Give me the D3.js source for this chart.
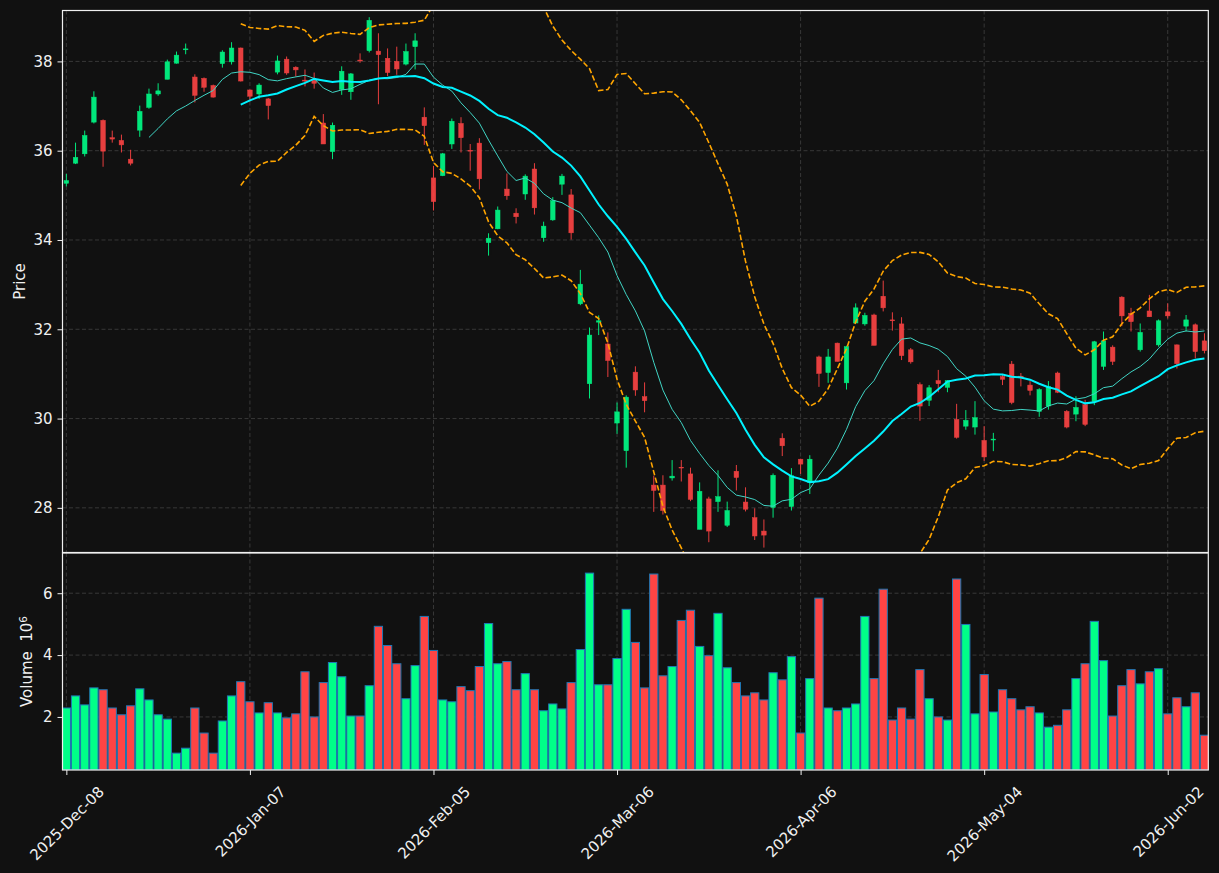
<!DOCTYPE html>
<html>
<head>
<meta charset="utf-8">
<script src="https://cdn.jsdelivr.net/npm/d3@7"></script>
<style>
  body { margin: 0; background: #111111; }
  svg { display: block; }
  text { font-family: "DejaVu Sans", sans-serif; }
</style>
</head>
<body>
<svg id="chart" width="1219" height="873"></svg>
<script>
var opens = [35.27,35.72,35.93,36.64,36.68,36.29,36.23,35.81,36.46,36.97,37.27,37.60,37.96,38.26,37.65,37.62,37.46,37.95,37.99,38.30,
  37.36,37.27,37.16,37.76,38.05,37.87,37.58,37.57,36.62,35.98,37.37,37.32,38.03,38.24,38.23,38.07,38.00,37.94,38.33,36.75,
  35.39,35.44,36.15,36.61,36.01,36.17,33.94,34.25,35.14,34.60,35.03,35.59,34.05,34.45,35.25,35.01,32.57,30.78,32.16,31.67,
  29.90,29.28,31.04,30.49,28.51,28.51,28.67,28.91,28.76,27.52,28.20,28.14,27.61,28.82,28.13,27.78,27.48,28.01,29.56,28.03,
  29.09,28.57,31.38,31.03,31.69,30.80,32.14,32.12,32.32,32.74,32.21,32.12,31.54,30.76,30.41,30.85,30.70,29.98,29.83,29.81,
  29.51,29.52,30.94,31.22,30.95,30.75,30.16,30.28,31.02,30.16,30.10,30.31,30.38,31.17,31.60,32.72,32.36,31.54,32.41,31.65,
  32.39,31.65,32.07,32.10,31.74];
var highs = [35.48,36.18,36.45,37.33,36.70,36.45,36.36,36.02,37.01,37.39,37.51,38.04,38.22,38.40,37.71,37.64,37.48,38.25,38.43,38.31,
  37.37,37.51,37.18,38.13,38.11,37.89,37.82,37.75,36.82,36.63,37.89,37.74,38.18,38.99,38.63,38.29,38.33,38.40,38.63,36.97,
  35.66,35.95,36.72,36.75,36.15,36.28,34.15,34.75,35.49,34.71,35.47,35.72,34.41,34.96,35.48,35.14,33.33,32.04,32.31,31.93,
  30.36,30.52,31.17,30.81,28.72,28.73,29.07,29.07,28.90,28.57,28.25,28.84,28.14,28.96,28.46,27.99,27.74,28.77,29.67,28.89,
  29.10,29.18,31.41,31.56,31.70,31.63,32.58,32.37,32.35,33.09,32.38,32.27,31.58,30.81,30.75,31.09,30.86,30.33,30.19,30.39,
  29.83,29.68,31.00,31.29,31.02,30.84,30.68,30.84,31.05,30.19,30.50,30.42,31.74,31.95,31.64,32.74,32.48,32.13,32.77,32.22,
  32.58,31.66,32.32,32.13,31.91];
var lows = [35.20,35.70,35.87,36.61,35.64,36.18,35.96,35.67,36.31,36.94,37.23,37.60,37.95,38.16,37.08,37.32,37.19,37.86,37.93,37.55,
  37.10,37.16,36.70,37.71,37.70,37.66,37.44,37.39,36.15,35.81,37.25,37.14,37.97,38.20,37.04,37.67,37.70,37.91,37.82,36.13,
  34.66,35.43,36.04,35.96,35.55,35.13,33.65,34.24,34.90,34.37,34.90,34.57,33.96,34.43,35.01,34.01,32.54,30.45,31.87,30.93,
  29.66,28.90,30.51,30.14,27.91,27.85,28.61,28.59,28.15,27.52,27.23,27.91,27.57,28.39,27.92,27.28,27.11,27.78,29.16,27.94,
  28.76,28.31,30.71,30.80,31.28,30.65,32.14,32.08,31.64,32.40,31.97,31.31,31.23,29.95,30.28,30.59,30.59,29.55,29.75,29.64,
  29.05,29.27,30.75,30.32,30.72,30.52,30.04,30.20,30.57,29.78,29.94,29.83,30.30,31.09,31.20,32.07,31.95,31.50,32.28,31.61,
  32.24,31.12,31.95,31.35,31.46];
var closes = [35.33,35.85,36.34,37.20,35.99,36.26,36.13,35.72,36.88,37.27,37.34,37.99,38.14,38.28,37.24,37.42,37.20,38.21,38.30,37.56,
  37.22,37.47,37.01,38.01,37.74,37.81,37.56,37.51,36.15,36.57,37.78,37.72,38.01,38.92,38.15,37.75,37.83,38.22,38.46,36.56,
  34.86,35.93,36.66,36.29,35.99,35.37,34.04,34.67,34.99,34.52,35.43,34.72,34.31,34.88,35.43,34.16,33.01,31.87,32.19,31.30,
  30.15,30.48,30.64,30.40,28.39,27.94,28.71,28.90,28.19,28.37,27.48,28.25,27.94,28.68,27.97,27.37,27.39,28.73,29.39,28.72,
  28.98,29.09,31.01,31.38,31.28,31.61,32.48,32.31,31.64,32.48,32.19,31.41,31.27,30.28,30.69,30.78,30.85,29.58,29.96,30.02,
  29.14,29.54,30.88,30.36,30.94,30.63,30.65,30.72,30.59,29.81,30.25,29.87,31.72,31.74,31.28,32.30,32.17,31.93,32.28,32.19,
  32.30,31.23,32.21,31.50,31.52];
var volumes = [2.29,2.68,2.39,2.94,2.88,2.29,2.07,2.36,2.91,2.55,2.07,1.93,0.83,0.99,2.29,1.48,0.83,1.87,2.68,3.14,
  2.49,2.13,2.46,2.13,1.97,2.10,3.46,2.00,3.11,3.76,3.30,2.03,2.03,3.01,4.93,4.31,3.72,2.59,3.66,5.25,
  4.15,2.55,2.49,2.98,2.85,3.63,5.02,3.72,3.79,2.88,3.40,2.88,2.20,2.42,2.26,3.11,4.18,6.65,3.04,3.04,
  3.89,5.48,4.41,2.94,6.62,3.33,3.63,5.12,5.45,4.28,3.98,5.35,3.59,3.11,2.68,2.78,2.55,3.43,3.20,3.95,
  1.48,3.24,5.84,2.29,2.20,2.29,2.42,5.25,3.24,6.13,1.90,2.29,1.93,3.53,2.59,2.00,1.90,6.46,4.99,2.10,
  3.37,2.16,2.88,2.59,2.23,2.33,2.13,1.67,1.73,2.23,3.24,3.72,5.09,3.82,2.03,3.01,3.53,3.07,3.46,3.56,
  2.10,2.62,2.33,2.78,1.41];

var tickIdx = [0, 20, 40, 60, 80, 100, 120];
var tickLabels = ["2025-Dec-08","2026-Jan-07","2026-Feb-05","2026-Mar-06","2026-Apr-06","2026-May-04","2026-Jun-02"];
var priceTicks = [28, 30, 32, 34, 36, 38];
var volTicks = [2, 4, 6];

var UP = "#00ff88", DOWN = "#ff4444";
var FS = 15;
var svg = d3.select("#chart");
var L = 62.5, R = 1208.3, PT = 10.5, PB = 552.5, VT = 553, VB = 770;

var n = closes.length;
var x = d3.scaleLinear().domain([-0.42, n - 1 + 0.42]).range([L, R]);
var yP = d3.scaleLinear().domain([27.0, 39.14]).range([PB, PT]);
var yV = d3.scaleLinear().domain([0.285, 7.3]).range([VB, VT]);
var step = x(1) - x(0);

svg.append("rect").attr("width", 1219).attr("height", 873).attr("fill", "#111111");

var defs = svg.append("defs");
defs.append("clipPath").attr("id", "clipP").append("rect")
  .attr("x", L).attr("y", PT).attr("width", R - L).attr("height", PB - PT);
defs.append("clipPath").attr("id", "clipV").append("rect")
  .attr("x", L).attr("y", VT).attr("width", R - L).attr("height", VB - VT);

// grid
function grid(g, yScale, ticks, top, bottom) {
  g.selectAll("line.h").data(ticks).join("line")
    .attr("x1", L).attr("x2", R)
    .attr("y1", d => yScale(d)).attr("y2", d => yScale(d));
  g.selectAll("line.v").data(tickIdx).join("line").attr("class", "v")
    .attr("x1", d => x(d)).attr("x2", d => x(d))
    .attr("y1", top).attr("y2", bottom);
  g.selectAll("line").attr("stroke", "#3c3c3c").attr("stroke-width", 0.9)
    .attr("stroke-dasharray", "4,2.5");
}
grid(svg.append("g"), yP, priceTicks, PT, PB);
grid(svg.append("g"), yV, volTicks, VT, VB);

// rolling stats from the closes
function rolling(win) {
  var out = [];
  for (var i = win - 1; i < n; i++) {
    var s = closes.slice(i - win + 1, i + 1);
    var m = d3.mean(s);
    var sd = Math.sqrt(d3.mean(s, v => (v - m) * (v - m)));
    out.push({i: i, m: m, up: m + 2 * sd, lo: m - 2 * sd});
  }
  return out;
}
var ma10 = rolling(10), ma20 = rolling(20);

var gp = svg.append("g").attr("clip-path", "url(#clipP)");

// candles
var candles = gp.selectAll("g.c").data(d3.range(n)).join("g")
  .attr("opacity", 0.9)
  .attr("fill", i => closes[i] >= opens[i] ? UP : DOWN)
  .attr("stroke", i => closes[i] >= opens[i] ? UP : DOWN);
candles.append("line")
  .attr("x1", i => x(i)).attr("x2", i => x(i))
  .attr("y1", i => yP(highs[i])).attr("y2", i => yP(lows[i]))
  .attr("stroke-width", 1);
var bw = step * 0.5;
candles.append("rect")
  .attr("x", i => x(i) - bw / 2).attr("width", bw)
  .attr("y", i => yP(Math.max(opens[i], closes[i])))
  .attr("height", i => Math.max(Math.abs(yP(opens[i]) - yP(closes[i])), 0.8))
  .attr("stroke-width", 0.5);

var line = (acc) => d3.line().x(d => x(d.i)).y(d => yP(acc(d)));
gp.append("path").datum(ma20).attr("d", line(d => d.up))
  .attr("fill", "none").attr("stroke", "#ffa500").attr("stroke-width", 1.6).attr("stroke-dasharray", "5.5,2.4");
gp.append("path").datum(ma20).attr("d", line(d => d.lo))
  .attr("fill", "none").attr("stroke", "#ffa500").attr("stroke-width", 1.6).attr("stroke-dasharray", "5.5,2.4");
gp.append("path").datum(ma10).attr("d", line(d => d.m))
  .attr("fill", "none").attr("stroke", "#40d4c4").attr("stroke-width", 1);
gp.append("path").datum(ma20).attr("d", line(d => d.m))
  .attr("fill", "none").attr("stroke", "#00f2ff").attr("stroke-width", 2);

// volume
var vw = step * 0.9;
svg.append("g").attr("clip-path", "url(#clipV)")
  .selectAll("rect").data(d3.range(n)).join("rect")
  .attr("x", i => x(i) - vw / 2).attr("width", vw)
  .attr("y", i => yV(volumes[i])).attr("height", i => VB - yV(volumes[i]))
  .attr("fill", i => closes[i] >= opens[i] ? UP : DOWN)
  .attr("stroke", "#1f77b4").attr("stroke-width", 1);

// spines
[[PT, PB], [VT, VB]].forEach(function (p) {
  svg.append("rect").attr("x", L).attr("y", p[0]).attr("width", R - L).attr("height", p[1] - p[0])
    .attr("fill", "none").attr("stroke", "#f0f0f0").attr("stroke-width", 1.2);
});

// axes
function styleAxis(g) {
  g.select(".domain").remove();
  g.selectAll(".tick line").attr("stroke", "#f0f0f0").attr("stroke-width", 1);
  g.selectAll(".tick text").attr("fill", "#f0f0f0").attr("font-size", FS)
    .attr("font-family", "DejaVu Sans, sans-serif");
}
svg.append("g").attr("transform", "translate(" + L + ",0)")
  .call(d3.axisLeft(yP).tickValues(priceTicks).tickSize(5).tickPadding(5).tickFormat(d3.format("d")))
  .call(styleAxis);
svg.append("g").attr("transform", "translate(" + L + ",0)")
  .call(d3.axisLeft(yV).tickValues(volTicks).tickSize(5).tickPadding(5).tickFormat(d3.format("d")))
  .call(styleAxis);

var xa = svg.append("g").attr("transform", "translate(0," + VB + ")")
  .call(d3.axisBottom(x).tickValues(tickIdx).tickSize(5).tickFormat((d, k) => tickLabels[k]))
  .call(styleAxis);
xa.selectAll(".tick text").each(function () {
  var t = d3.select(this);
  var w = this.getComputedTextLength();
  var h = (w + 0.73 * FS) / Math.SQRT2;
  t.attr("x", 0).attr("y", 0).attr("dy", "0.36em").attr("text-anchor", "middle")
    .attr("transform", "translate(0," + (15 + h / 2) + ") rotate(-45)");
});

svg.append("text").attr("transform", "translate(24.5," + ((PT + PB) / 2) + ") rotate(-90)")
  .attr("text-anchor", "middle").attr("fill", "#f0f0f0").attr("font-size", FS).text("Price");
var vl = svg.append("text").attr("transform", "translate(32," + ((VT + VB) / 2) + ") rotate(-90)")
  .attr("text-anchor", "middle").attr("fill", "#f0f0f0").attr("font-size", FS)
  .style("white-space", "pre");
vl.append("tspan").text("Volume  10");
vl.append("tspan").attr("dy", "-0.45em").attr("font-size", 10.5).text("6");
</script>
</body>
</html>
